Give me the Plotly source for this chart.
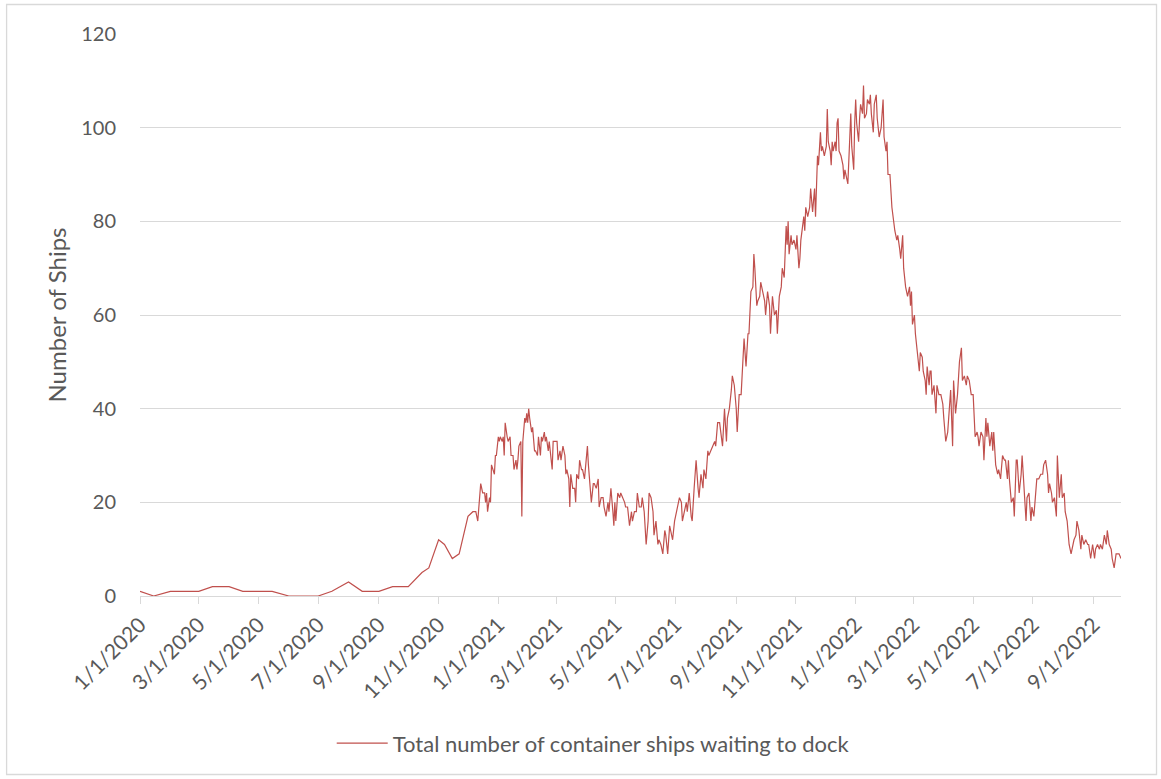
import plotly.graph_objects as go
import pandas as pd

SERIES_NAME = "Total number of container ships waiting to dock"
Y_TITLE = "Number of Ships"

# sparse readings in 2020
dates_2020 = ["2020-01-01", "2020-01-15", "2020-02-01", "2020-02-15", "2020-03-01", "2020-03-15",
              "2020-04-01", "2020-04-15", "2020-05-01", "2020-05-15", "2020-06-01", "2020-06-15",
              "2020-07-01", "2020-07-15", "2020-08-01", "2020-08-15", "2020-09-01", "2020-09-15",
              "2020-10-01", "2020-10-15", "2020-10-22", "2020-11-01", "2020-11-07", "2020-11-15",
              "2020-11-22", "2020-12-01", "2020-12-06", "2020-12-08", "2020-12-09"]
ships_2020 = [1, 0, 1, 1, 1, 2, 2, 1, 1, 1, 0, 0, 0, 1, 3, 1, 1, 2, 2, 5, 6, 12, 11, 8, 9, 17, 18, 18, 18]

# frequent readings from Dec 2020
dates_daily = [
    "2020-12-11", "2020-12-14", "2020-12-16", "2020-12-18", "2020-12-19", "2020-12-20", "2020-12-21",
    "2020-12-23", "2020-12-24", "2020-12-25", "2020-12-28", "2020-12-29", "2020-12-30",
    "2021-01-01", "2021-01-02", "2021-01-03", "2021-01-05", "2021-01-06", "2021-01-07", "2021-01-08",
    "2021-01-10", "2021-01-11", "2021-01-13", "2021-01-14", "2021-01-16", "2021-01-17", "2021-01-19",
    "2021-01-20", "2021-01-21", "2021-01-22", "2021-01-24", "2021-01-25", "2021-01-26", "2021-01-28",
    "2021-01-29", "2021-01-30", "2021-01-31",
    "2021-02-01", "2021-02-02", "2021-02-04", "2021-02-05", "2021-02-06", "2021-02-07", "2021-02-08",
    "2021-02-10", "2021-02-11", "2021-02-13", "2021-02-14", "2021-02-15", "2021-02-17", "2021-02-18",
    "2021-02-19", "2021-02-21", "2021-02-22", "2021-02-24", "2021-02-25", "2021-02-26", "2021-02-28",
    "2021-03-02", "2021-03-03", "2021-03-05", "2021-03-06", "2021-03-08", "2021-03-10", "2021-03-11",
    "2021-03-12", "2021-03-14", "2021-03-15", "2021-03-16", "2021-03-18", "2021-03-20", "2021-03-21",
    "2021-03-22", "2021-03-24", "2021-03-25", "2021-03-27", "2021-03-28", "2021-03-30",
    "2021-04-02", "2021-04-03", "2021-04-04", "2021-04-06", "2021-04-08", "2021-04-09", "2021-04-11",
    "2021-04-13", "2021-04-14", "2021-04-16", "2021-04-18", "2021-04-19", "2021-04-21", "2021-04-23",
    "2021-04-24", "2021-04-26", "2021-04-28", "2021-04-29", "2021-04-30",
    "2021-05-01", "2021-05-03", "2021-05-05", "2021-05-06", "2021-05-08", "2021-05-10", "2021-05-11",
    "2021-05-13", "2021-05-15", "2021-05-17", "2021-05-18", "2021-05-20", "2021-05-22", "2021-05-23",
    "2021-05-25", "2021-05-27", "2021-05-28", "2021-05-30",
    "2021-06-01", "2021-06-03", "2021-06-04", "2021-06-06", "2021-06-08", "2021-06-09", "2021-06-11",
    "2021-06-13", "2021-06-14", "2021-06-16", "2021-06-18", "2021-06-20", "2021-06-21", "2021-06-23",
    "2021-06-25", "2021-06-26", "2021-06-28", "2021-06-30",
    "2021-07-02", "2021-07-03", "2021-07-05", "2021-07-07", "2021-07-08", "2021-07-10", "2021-07-12",
    "2021-07-13", "2021-07-15", "2021-07-17", "2021-07-18", "2021-07-20", "2021-07-22", "2021-07-24",
    "2021-07-25", "2021-07-27", "2021-07-29", "2021-07-30",
    "2021-08-01", "2021-08-03", "2021-08-04", "2021-08-06", "2021-08-08", "2021-08-10", "2021-08-11",
    "2021-08-13", "2021-08-15", "2021-08-16", "2021-08-18", "2021-08-20", "2021-08-22", "2021-08-23",
    "2021-08-25", "2021-08-27", "2021-08-28", "2021-08-30",
    "2021-09-01", "2021-09-02", "2021-09-04", "2021-09-06", "2021-09-07", "2021-09-09", "2021-09-11",
    "2021-09-13", "2021-09-14", "2021-09-16", "2021-09-18", "2021-09-19", "2021-09-20", "2021-09-22",
    "2021-09-23", "2021-09-25", "2021-09-26", "2021-09-28", "2021-09-30",
    "2021-10-01", "2021-10-03", "2021-10-05", "2021-10-06", "2021-10-08", "2021-10-10", "2021-10-12",
    "2021-10-13", "2021-10-15", "2021-10-17", "2021-10-18", "2021-10-20", "2021-10-22", "2021-10-23",
    "2021-10-24", "2021-10-25", "2021-10-27", "2021-10-28", "2021-10-30",
    "2021-11-01", "2021-11-02", "2021-11-03", "2021-11-04", "2021-11-05", "2021-11-06", "2021-11-09",
    "2021-11-10", "2021-11-11", "2021-11-13", "2021-11-15", "2021-11-16", "2021-11-18", "2021-11-20",
    "2021-11-21", "2021-11-23", "2021-11-24", "2021-11-26", "2021-11-27", "2021-11-28", "2021-11-30",
    "2021-12-02", "2021-12-03", "2021-12-04", "2021-12-06", "2021-12-07", "2021-12-08", "2021-12-09",
    "2021-12-11", "2021-12-12", "2021-12-13", "2021-12-14", "2021-12-15", "2021-12-17", "2021-12-19",
    "2021-12-20", "2021-12-21", "2021-12-22", "2021-12-24", "2021-12-26", "2021-12-27", "2021-12-28",
    "2021-12-30", "2021-12-31",
    "2022-01-01", "2022-01-02", "2022-01-04", "2022-01-05", "2022-01-06", "2022-01-08", "2022-01-09",
    "2022-01-10", "2022-01-12", "2022-01-13", "2022-01-15", "2022-01-16", "2022-01-17", "2022-01-19",
    "2022-01-20", "2022-01-22", "2022-01-23", "2022-01-25", "2022-01-27", "2022-01-29", "2022-01-30",
    "2022-02-01", "2022-02-02", "2022-02-03", "2022-02-05", "2022-02-07", "2022-02-09", "2022-02-10",
    "2022-02-12", "2022-02-13", "2022-02-15", "2022-02-16", "2022-02-18", "2022-02-19", "2022-02-21",
    "2022-02-23", "2022-02-25", "2022-02-26", "2022-02-27", "2022-02-28",
    "2022-03-02", "2022-03-03", "2022-03-05", "2022-03-07", "2022-03-08", "2022-03-10", "2022-03-11",
    "2022-03-13", "2022-03-14", "2022-03-15", "2022-03-17", "2022-03-18", "2022-03-19", "2022-03-20",
    "2022-03-22", "2022-03-24", "2022-03-25", "2022-03-27", "2022-03-29", "2022-03-31",
    "2022-04-01", "2022-04-03", "2022-04-05", "2022-04-06", "2022-04-08", "2022-04-10", "2022-04-11",
    "2022-04-13", "2022-04-15", "2022-04-17", "2022-04-19", "2022-04-20", "2022-04-22", "2022-04-24",
    "2022-04-25", "2022-04-27", "2022-04-29",
    "2022-05-01", "2022-05-02", "2022-05-03", "2022-05-05", "2022-05-06", "2022-05-07", "2022-05-09",
    "2022-05-11", "2022-05-12", "2022-05-14", "2022-05-15", "2022-05-16", "2022-05-17", "2022-05-18",
    "2022-05-20", "2022-05-21", "2022-05-22", "2022-05-24", "2022-05-26", "2022-05-27", "2022-05-29",
    "2022-05-30", "2022-05-31",
    "2022-06-02", "2022-06-03", "2022-06-05", "2022-06-06", "2022-06-07", "2022-06-09", "2022-06-11",
    "2022-06-12", "2022-06-14", "2022-06-15", "2022-06-17", "2022-06-19", "2022-06-20", "2022-06-22",
    "2022-06-24", "2022-06-25", "2022-06-27", "2022-06-29", "2022-06-30",
    "2022-07-02", "2022-07-04", "2022-07-05", "2022-07-07", "2022-07-09", "2022-07-11", "2022-07-12",
    "2022-07-14", "2022-07-16", "2022-07-17", "2022-07-18", "2022-07-20", "2022-07-21", "2022-07-23",
    "2022-07-25", "2022-07-26", "2022-07-28", "2022-07-30", "2022-07-31",
    "2022-08-02", "2022-08-03", "2022-08-05", "2022-08-07", "2022-08-09", "2022-08-10", "2022-08-12",
    "2022-08-14", "2022-08-15", "2022-08-17", "2022-08-19", "2022-08-20", "2022-08-22", "2022-08-24",
    "2022-08-26", "2022-08-27", "2022-08-29", "2022-08-31",
    "2022-09-02", "2022-09-03", "2022-09-05", "2022-09-07", "2022-09-08", "2022-09-10", "2022-09-12",
    "2022-09-14", "2022-09-15", "2022-09-17", "2022-09-19", "2022-09-20", "2022-09-22", "2022-09-24",
    "2022-09-25", "2022-09-27", "2022-09-29",
]
ships_daily = [
    16, 24, 22, 22, 20, 22, 18, 21, 20, 28, 26, 30, 30,
    34, 33, 34, 33, 34, 30, 37, 34, 33, 34, 30, 30, 27, 29, 27, 29, 32, 33, 17, 33, 38, 37, 39, 37,
    40, 38, 35, 36, 34, 31, 31, 30, 34, 30, 34, 33, 35, 33, 34, 31, 33, 29, 27, 33, 33,
    33, 29, 31, 29, 32, 30, 26, 27, 25, 19, 26, 23, 23, 20, 26, 25, 29, 27, 27, 25,
    32, 28, 25, 20, 24, 24, 23, 25, 19, 21, 21, 19, 17, 20, 18, 23, 18, 15, 20,
    16, 22, 21, 22, 21, 20, 19, 19, 15, 18, 16, 18, 18, 22, 19, 19, 21, 18,
    11, 16, 22, 21, 18, 13, 16, 11, 12, 11, 9, 14, 13, 9, 15, 14, 12, 16,
    18, 19, 21, 20, 16, 18, 20, 18, 22, 17, 16, 23, 29, 23, 21, 26, 23, 27,
    25, 31, 30, 31, 32, 33, 32, 37, 37, 35, 32, 40, 33, 38, 40, 44, 47, 45,
    40, 35, 43, 43, 47, 55, 49, 56, 56, 65, 66, 73, 70, 62, 63, 64, 67, 65, 63,
    60, 65, 62, 56, 64, 60, 61, 56, 64, 66, 70, 68, 79, 75, 80, 73, 77, 75, 76,
    74, 77, 74, 70, 72, 76, 81, 78, 83, 81, 83, 87, 82, 87, 81, 94, 92, 99, 95, 96, 94,
    96, 104, 97, 95, 92, 97, 95, 97, 95, 101, 102, 95, 94, 92, 89, 91, 90, 88, 98, 103, 96, 91, 101,
    106, 101, 97, 102, 105, 103, 109, 102, 103, 106, 105, 107, 103, 99, 105, 107, 102, 98, 100, 106, 98,
    95, 97, 90, 90, 83, 79, 78, 76, 77, 74, 72, 77, 70, 66, 64, 66, 62, 65, 58,
    60, 56, 52, 48, 52, 51, 48, 46, 43, 49, 45, 48, 48, 43, 45, 39, 45, 43, 43, 41,
    38, 33, 35, 38, 44, 32, 46, 39, 43, 50, 53, 46, 47, 45, 47, 46, 43,
    43, 39, 34, 35, 34, 32, 35, 34, 29, 38, 34, 37, 35, 32, 35, 31, 35, 28, 26, 27, 25, 29, 30,
    29, 29, 25, 29, 25, 20, 21, 17, 29, 29, 22, 26, 30, 23, 16, 21, 22, 16, 19,
    17, 23, 25, 25, 26, 26, 28, 29, 26, 22, 24, 22, 20, 21, 17, 30, 21, 26, 21,
    22, 18, 16, 11, 9, 10, 12, 13, 16, 14, 10, 13, 11, 12, 11, 11, 8, 11,
    8, 10, 11, 10, 11, 10, 13, 11, 14, 11, 10, 8, 6, 9, 9, 9, 8,
]

tick_dates = ["2020-01-01", "2020-03-01", "2020-05-01", "2020-07-01", "2020-09-01", "2020-11-01",
              "2021-01-01", "2021-03-01", "2021-05-01", "2021-07-01", "2021-09-01", "2021-11-01",
              "2022-01-01", "2022-03-01", "2022-05-01", "2022-07-01", "2022-09-01"]
tick_labels = ["1/1/2020", "3/1/2020", "5/1/2020", "7/1/2020", "9/1/2020", "11/1/2020",
               "1/1/2021", "3/1/2021", "5/1/2021", "7/1/2021", "9/1/2021", "11/1/2021",
               "1/1/2022", "3/1/2022", "5/1/2022", "7/1/2022", "9/1/2022"]
y_ticks = [0, 20, 40, 60, 80, 100, 120]

x = pd.to_datetime(dates_2020 + dates_daily)
y = ships_2020 + ships_daily

FONT = "Lato"
GREY = "#595959"
GRID = "#D9D9D9"

fig = go.Figure()
fig.add_trace(go.Scatter(
    x=x, y=y, mode="lines", name=SERIES_NAME,
    line=dict(color="#C0504D", width=1.2),
    showlegend=True,
))

fig.update_layout(
    width=1161, height=779,
    margin=dict(l=140, r=40, t=34, b=183),
    paper_bgcolor="white", plot_bgcolor="white",
    font=dict(family=FONT, color=GREY, size=21),
    showlegend=True,
    legend=dict(orientation="h", x=0.462, y=-0.262, xanchor="center", yanchor="middle",
                font=dict(size=22, color=GREY, family=FONT), itemwidth=51),
    xaxis=dict(
        type="date",
        range=[x.min(), x.max()],
        tickvals=pd.to_datetime(tick_dates), ticktext=tick_labels,
        tickangle=-45, tickfont=dict(size=21, color=GREY, family=FONT),
        showgrid=False, showline=True, linecolor=GRID, linewidth=1.3,
        ticks="outside", ticklen=7, tickcolor=GRID, tickwidth=1.3,
        zeroline=False,
    ),
    yaxis=dict(
        range=[0, 120], tickvals=y_ticks,
        showgrid=True, gridcolor=GRID, gridwidth=1.3,
        zeroline=False, showline=False, ticks="",
        tickfont=dict(size=20, color=GREY, family=FONT),
        ticklabelstandoff=23,
        title=dict(text=Y_TITLE, font=dict(size=24, color=GREY, family=FONT), standoff=7),
    ),
    shapes=[dict(type="rect", xref="paper", yref="paper",
                 x0=-0.136, x1=1.0362, y0=-0.3176, y1=1.0525,
                 line=dict(color=GRID, width=1.3), fillcolor="rgba(0,0,0,0)", layer="below")],
)

fig.write_html("out.html", config={"displayModeBar": False},
               post_script="document.body.style.margin='0px';")
